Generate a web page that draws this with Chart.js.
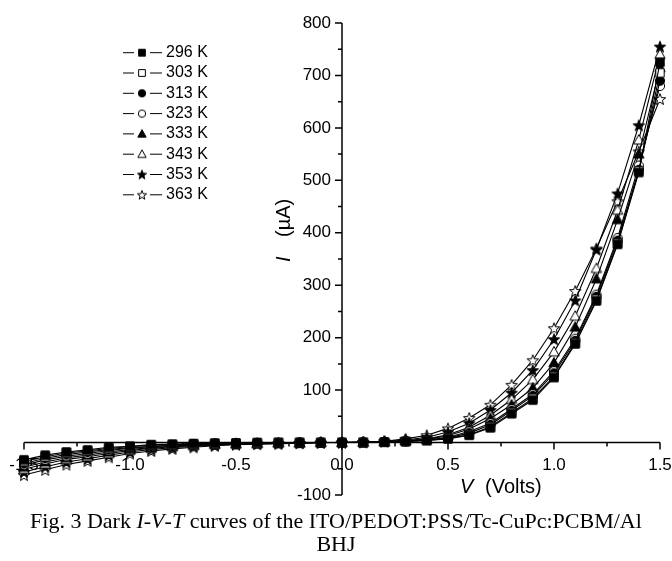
<!DOCTYPE html>
<html>
<head>
<meta charset="utf-8">
<script src="https://cdn.jsdelivr.net/npm/chart.js@4.4.1/dist/chart.umd.min.js"></script>
<style>
  body { margin: 0; background: #fff; }
  #wrap { position: relative; width: 672px; height: 561px; overflow: hidden; }
  #caption {
    position: absolute; left: 0; top: 509px; width: 672px;
    font-family: "Liberation Serif", "Times New Roman", serif;
    font-size: 22px; line-height: 23px; text-align: center; color: #000;
  }
</style>
</head>
<body>
<div id="wrap">
  <canvas id="ivt" width="672" height="561"></canvas>
  <div id="caption">Fig. 3 Dark <i>I</i>-<i>V</i>-<i>T</i> curves of the ITO/PEDOT:PSS/Tc-CuPc:PCBM/Al<br>BHJ</div>
</div>
<script>
// voltage steps, -1.5 V .. 1.5 V
const volts = [-1.5, -1.4, -1.3, -1.2, -1.1, -1.0, -0.9, -0.8, -0.7, -0.6, -0.5, -0.4, -0.3, -0.2, -0.1,
               0.0, 0.1, 0.2, 0.3, 0.4, 0.5, 0.6, 0.7, 0.8, 0.9, 1.0, 1.1, 1.2, 1.3, 1.4, 1.5];

const temps = ['296 K', '303 K', '313 K', '323 K', '333 K', '343 K', '353 K', '363 K'];

// current in uA
const i296 = [-33, -24, -18, -14, -9, -7, -4, -3, -2, -1, -1, 0, 0, 0, 0,
              0, 0.3, 1, 2, 4, 7, 14, 28, 55, 81, 124, 188, 270, 378, 515, 725];
const i303 = [-36, -27, -20, -16, -11, -8, -5, -4, -3, -2, -1, -1, 0, 0, 0,
              0, 0.3, 1, 2, 4, 8, 15, 30, 57, 84, 126, 190, 273, 380, 518, 705];
const i313 = [-40, -30, -23, -18, -13, -10, -7, -5, -3, -2, -1, -1, -1, 0, 0,
              0, 0.4, 1, 2, 5, 9, 18, 34, 61, 89, 132, 194, 278, 385, 520, 690];
const i323 = [-43, -33, -26, -21, -15, -11, -8, -6, -4, -3, -2, -1, -1, 0, 0,
              0, 0.4, 1, 3, 5, 10, 21, 37, 64, 92, 136, 198, 282, 390, 528, 680];
const i333 = [-47, -37, -29, -24, -18, -13, -10, -7, -5, -3, -2, -2, -1, -1, 0,
              0, 0.5, 1.5, 3, 6, 13, 26, 46, 72, 104, 152, 220, 312, 425, 550, 715];
const i343 = [-51, -41, -32, -27, -21, -15, -11, -8, -6, -4, -3, -2, -1, -1, 0,
              0, 0.5, 1.5, 4, 7, 15, 29, 52, 82, 120, 173, 241, 332, 443, 577, 740];
const i353 = [-56, -46, -37, -31, -24, -18, -13, -10, -7, -5, -3, -2, -2, -1, 0,
              0, 0.6, 2, 5, 10, 20, 37, 62, 95, 138, 197, 271, 368, 475, 605, 755];
const i363 = [-62, -52, -42, -35, -28, -21, -16, -12, -9, -6, -4, -3, -2, -1, -0.5,
              0, 0.8, 2.5, 7, 14, 27, 47, 72, 110, 157, 218, 289, 370, 460, 555, 655];

const xTickLabels = ['-1.5', '-1.0', '-0.5', '0.0', '0.5', '1.0', '1.5'];
const yTickLabels = ['-100', '100', '200', '300', '400', '500', '600', '700', '800'];

const series = [i296, i303, i313, i323, i333, i343, i353, i363];
const shapes = [['square', true], ['square', false], ['circle', true], ['circle', false],
                ['triangle', true], ['triangle', false], ['star', true], ['star', false]];

const FAMILY = '"Liberation Sans", Arial, sans-serif';

function makeMarker(shape, filled, s) {
    const c = document.createElement('canvas');
    c.width = 16; c.height = 16;
    const g = c.getContext('2d');
    const cx = 8, cy = 8;
    g.beginPath();
    if (shape === 'square') {
        g.rect(cx - 4.2 * s, cy - 4.2 * s, 8.4 * s, 8.4 * s);
    } else if (shape === 'circle') {
        g.arc(cx, cy, 4.6 * s, 0, Math.PI * 2);
    } else if (shape === 'triangle') {
        g.moveTo(cx, cy - 5.4 * s);
        g.lineTo(cx + 5.2 * s, cy + 4 * s);
        g.lineTo(cx - 5.2 * s, cy + 4 * s);
        g.closePath();
    } else {
        for (let k = 0; k < 10; k++) {
            const r = (k % 2 === 0 ? 6 : 2.5) * s;
            const a = -Math.PI / 2 + k * Math.PI / 5;
            const px = cx + r * Math.cos(a), py = cy + 0.6 * s + r * Math.sin(a);
            if (k === 0) g.moveTo(px, py); else g.lineTo(px, py);
        }
        g.closePath();
    }
    g.fillStyle = filled ? '#000' : '#fff';
    g.fill();
    g.lineWidth = 1;
    g.strokeStyle = '#000';
    g.stroke();
    return c;
}

const markers = shapes.map(s => makeMarker(s[0], s[1], 1));
const legendMarkers = shapes.map(s => makeMarker(s[0], s[1], 0.8));

const datasets = series.map((vals, i) => ({
    label: temps[i],
    data: vals.map((v, j) => ({ x: volts[j], y: v })),
    borderColor: '#000',
    borderWidth: 1.1,
    pointStyle: markers[i],
    pointRadius: 5,
    clip: false,
    tension: 0
}));

// axes (crossing at 0,0), tick marks, labels and legend
const axesPlugin = {
    id: 'axesPlugin',
    afterDatasetsDraw(chart) {
        const ctx = chart.ctx;
        const xs = chart.scales.x, ys = chart.scales.y;
        const x0 = xs.getPixelForValue(0), y0 = ys.getPixelForValue(0);
        ctx.save();
        ctx.strokeStyle = '#000';
        ctx.fillStyle = '#000';
        ctx.lineWidth = 1.5;

        // axis lines
        ctx.beginPath();
        ctx.moveTo(xs.getPixelForValue(-1.5), y0);
        ctx.lineTo(xs.getPixelForValue(1.5), y0);
        ctx.moveTo(x0, ys.getPixelForValue(-100));
        ctx.lineTo(x0, ys.getPixelForValue(800));
        ctx.stroke();

        // x ticks
        ctx.beginPath();
        for (let k = 0; k <= 12; k++) {
            const v = -1.5 + k * 0.25;
            const px = xs.getPixelForValue(v);
            ctx.moveTo(px, y0);
            ctx.lineTo(px, y0 + (k % 2 === 0 ? 7 : 4));
        }
        // y ticks
        for (let k = 0; k <= 18; k++) {
            const v = -100 + k * 50;
            const py = ys.getPixelForValue(v);
            ctx.moveTo(x0, py);
            ctx.lineTo(x0 - (k % 2 === 0 ? 7 : 4), py);
        }
        ctx.stroke();

        ctx.font = '17px ' + FAMILY;
        ctx.textAlign = 'center';
        ctx.textBaseline = 'middle';
        xTickLabels.forEach(t => {
            ctx.fillText(t, xs.getPixelForValue(parseFloat(t)), y0 + 23);
        });
        ctx.textAlign = 'right';
        yTickLabels.forEach(t => {
            ctx.fillText(t, x0 - 11, ys.getPixelForValue(parseFloat(t)));
        });

        // axis titles
        ctx.textAlign = 'left';
        ctx.font = 'italic 20px ' + FAMILY;
        ctx.fillText('V', 460, 487);
        ctx.font = '20px ' + FAMILY;
        ctx.fillText('(Volts)', 485, 487);

        ctx.save();
        ctx.translate(284, 230);
        ctx.rotate(-Math.PI / 2);
        ctx.textAlign = 'left';
        ctx.font = 'italic 20px ' + FAMILY;
        ctx.fillText('I', -32, 0);
        ctx.font = '20px ' + FAMILY;
        ctx.fillText('(\u00B5A)', -7, 0);
        ctx.restore();

        // legend
        ctx.lineWidth = 1;
        ctx.font = '16px ' + FAMILY;
        ctx.textAlign = 'left';
        chart.data.datasets.forEach((ds, i) => {
            const ly = 52.7 + i * 20.3;
            ctx.beginPath();
            ctx.moveTo(123, ly);
            ctx.lineTo(134, ly);
            ctx.moveTo(150, ly);
            ctx.lineTo(162, ly);
            ctx.stroke();
            ctx.drawImage(legendMarkers[i], 142 - 8, ly - 8);
            ctx.fillText(ds.label, 166, ly);
        });
        ctx.restore();
    }
};

new Chart(document.getElementById('ivt').getContext('2d'), {
    type: 'line',
    data: { datasets: datasets },
    options: {
        responsive: false,
        animation: false,
        devicePixelRatio: 1,
        layout: { padding: { left: 24, right: 12, top: 23, bottom: 66 } },
        plugins: { legend: { display: false }, tooltip: { enabled: false } },
        scales: {
            x: { type: 'linear', min: -1.5, max: 1.5, display: false },
            y: { type: 'linear', min: -100, max: 800, display: false }
        }
    },
    plugins: [axesPlugin]
});
</script>
</body>
</html>
